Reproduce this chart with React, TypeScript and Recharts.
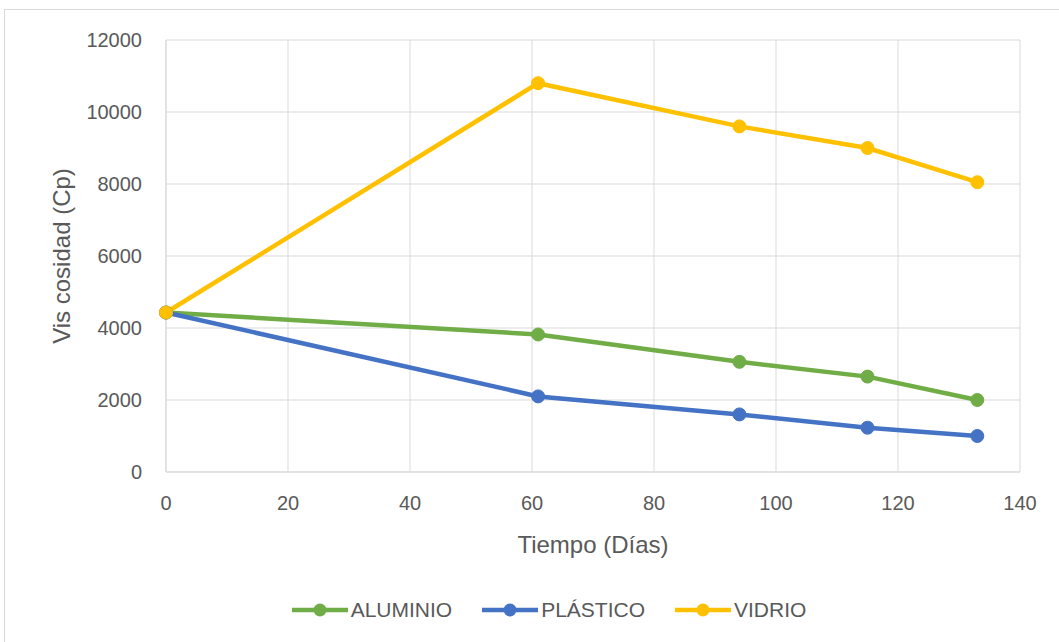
import { LineChart, Line, XAxis, YAxis, CartesianGrid, Legend } from 'recharts';

// Días de almacenamiento
const dias = [0, 61, 94, 115, 133];
// Viscosidad (Cp) por tipo de envase
const aluminio = [4430, 3820, 3060, 2650, 2000];
const plastico = [4430, 2100, 1600, 1230, 1000];
const vidrio = [4430, 10800, 9600, 9000, 8050];

const xTicks = [0, 20, 40, 60, 80, 100, 120, 140];
const yTicks = [0, 2000, 4000, 6000, 8000, 10000, 12000];

const series = [
  { key: 'aluminio', name: 'ALUMINIO', color: '#70AD47' },
  { key: 'plastico', name: 'PLÁSTICO', color: '#4472C4' },
  { key: 'vidrio', name: 'VIDRIO', color: '#FFC000' },
];

const data = dias.map((d, i) => ({
  dias: d,
  aluminio: aluminio[i],
  plastico: plastico[i],
  vidrio: vidrio[i],
}));

const FONT = '"Liberation Sans", Arial, sans-serif';
const TEXT = '#595959';
const GRID = '#d9d9d9';

function LegendBox() {
  return (
    <div
      style={{
        height: 30,
        display: 'flex',
        justifyContent: 'center',
        alignItems: 'center',
        paddingLeft: 22,
        fontFamily: FONT,
        fontSize: 21,
        color: TEXT,
      }}
    >
      {series.map((s, i) => (
        <div
          key={s.key}
          style={{ display: 'flex', alignItems: 'center', marginRight: i < series.length - 1 ? 30 : 0 }}
        >
          <svg width={56} height={20}>
            <line x1={0} y1={10} x2={56} y2={10} stroke={s.color} strokeWidth={4.5} />
            <circle cx={28} cy={10} r={6.5} fill={s.color} />
          </svg>
          <span style={{ marginLeft: 3 }}>{s.name}</span>
        </div>
      ))}
    </div>
  );
}

export default function App() {
  return (
    <div
      style={{
        position: 'absolute',
        left: 4,
        top: 9,
        width: 1060,
        height: 640,
        border: '1px solid #d9d9d9',
        boxSizing: 'border-box',
        background: '#fff',
      }}
    >
      <LineChart
        width={1058}
        height={630}
        data={data}
        margin={{ top: 30, right: 43, left: 51, bottom: 15 }}
      >
        <CartesianGrid stroke={GRID} strokeWidth={1} />
        <XAxis
          dataKey="dias"
          type="number"
          domain={[0, 140]}
          ticks={xTicks}
          height={123}
          tickLine={false}
          tickSize={0}
          tickMargin={24}
          axisLine={{ stroke: GRID }}
          tick={{ fill: TEXT, fontSize: 20, fontFamily: FONT }}
          label={{
            value: 'Tiempo (Días)',
            position: 'insideTop',
            offset: 64,
            style: { fill: TEXT, fontSize: 24, fontFamily: FONT },
          }}
        />
        <YAxis
          type="number"
          domain={[0, 12000]}
          ticks={yTicks}
          width={110}
          tickLine={false}
          tickSize={0}
          tickMargin={24}
          axisLine={{ stroke: GRID }}
          tick={{ fill: TEXT, fontSize: 20, fontFamily: FONT }}
          label={{
            value: 'Vis cosidad (Cp)',
            angle: -90,
            position: 'insideLeft',
            offset: 5,
            style: { fill: TEXT, fontSize: 24, fontFamily: FONT, textAnchor: 'middle' },
          }}
        />
        <Legend verticalAlign="bottom" content={<LegendBox />} />
        {series.map(s => (
          <Line
            key={s.key}
            dataKey={s.key}
            name={s.name}
            stroke={s.color}
            strokeWidth={4.5}
            dot={{ r: 6.5, fill: s.color, stroke: s.color, strokeWidth: 1 }}
            activeDot={false}
            isAnimationActive={false}
          />
        ))}
      </LineChart>
    </div>
  );
}
